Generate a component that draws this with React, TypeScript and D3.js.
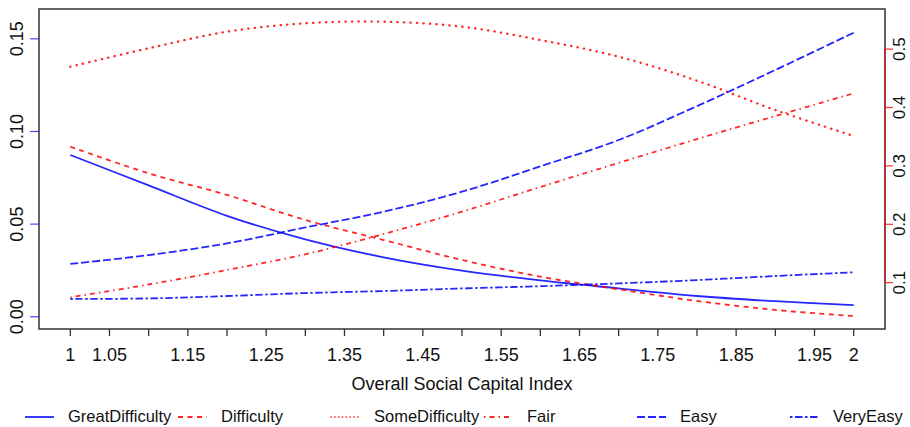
import React from "react";
import * as d3 from "d3";

// x grid of the predicted probabilities
const xValues = [1.0, 1.1, 1.2, 1.3, 1.4, 1.5, 1.6, 1.7, 1.8, 1.9, 2.0];

// left (blue) axis series
const greatDifficulty = [0.0873, 0.0709, 0.0545, 0.0418, 0.0321, 0.0249, 0.0196, 0.0153, 0.0112, 0.0084, 0.0063];
const easy = [0.0285, 0.0333, 0.0396, 0.0482, 0.0567, 0.0675, 0.0812, 0.0954, 0.1137, 0.1332, 0.1533];
const veryEasy = [0.0096, 0.0099, 0.0112, 0.0128, 0.0139, 0.0153, 0.0165, 0.018, 0.0198, 0.022, 0.024];

// right (red) axis series
const difficulty = [0.3329, 0.2873, 0.2502, 0.2074, 0.1731, 0.1389, 0.1103, 0.0887, 0.0687, 0.0533, 0.043];
const someDifficulty = [0.4699, 0.5014, 0.5298, 0.5442, 0.5469, 0.5384, 0.5156, 0.487, 0.4459, 0.3957, 0.3512];
const fair = [0.075, 0.0969, 0.1217, 0.1487, 0.1834, 0.2216, 0.2639, 0.3052, 0.346, 0.3854, 0.4243];

const xTicks = d3.range(0, 21).map((i) => 1 + i * 0.05);
const xTickLabels = ["1", "1.05", "1.15", "1.25", "1.35", "1.45", "1.55", "1.65", "1.75", "1.85", "1.95", "2"];
const leftTicks = [0, 0.05, 0.1, 0.15];
const leftTickLabels = ["0.00", "0.05", "0.10", "0.15"];
const rightTicks = [0.1, 0.2, 0.3, 0.4, 0.5];
const rightTickLabels = ["0.1", "0.2", "0.3", "0.4", "0.5"];

const legendNames = ["GreatDifficulty", "Difficulty", "SomeDifficulty", "Fair", "Easy", "VeryEasy"];

const BLUE = "#0000ff";
const RED = "#ff0000";
const FONT = "'Liberation Sans', Arial, Helvetica, sans-serif";

const W = 910;
const H = 427;
const left = 39;
const right = 885;
const top = 9;
const bottom = 329;

export default function App() {
  React.useEffect(() => {
    document.body.style.margin = "0";
  }, []);

  const x = d3.scaleLinear().domain([0.96, 2.04]).range([left, right]);
  const yL = d3.scaleLinear().domain([-0.0066, 0.1661]).range([bottom, top]);
  const yR = d3.scaleLinear().domain([0.0207, 0.5687]).range([bottom, top]);

  const series = [
    { name: "GreatDifficulty", vals: greatDifficulty, scale: yL, color: BLUE, dash: "none", cap: "butt" },
    { name: "Difficulty", vals: difficulty, scale: yR, color: RED, dash: "5,4.5", cap: "butt" },
    { name: "SomeDifficulty", vals: someDifficulty, scale: yR, color: RED, dash: "0.3,6.2", cap: "round" },
    { name: "Fair", vals: fair, scale: yR, color: RED, dash: "1.5,4,5,4", cap: "butt" },
    { name: "Easy", vals: easy, scale: yL, color: BLUE, dash: "8,3", cap: "butt" },
    { name: "VeryEasy", vals: veryEasy, scale: yL, color: BLUE, dash: "2.5,2.5,7.5,2.5", cap: "butt" },
  ];

  const lineFor = (s: any) =>
    d3
      .line<number>()
      .x((_, i) => x(xValues[i]))
      .y((v) => s.scale(v))
      .curve(d3.curveCatmullRom.alpha(0.5))(s.vals) as string;

  const labelledTicks = xTickLabels.map((l) => +l);

  return (
    <svg width={W} height={H} style={{ position: "absolute", left: 0, top: 0, background: "#fff" }} fontFamily={FONT}>
      <rect x={0} y={0} width={W} height={H} fill="#fff" />
      {/* series */}
      {series.map((s) => (
        <path
          key={s.name}
          d={lineFor(s)}
          fill="none"
          stroke={s.color}
          strokeWidth={s.cap === "round" ? 2.3 : 1.8}
          strokeLinecap={s.cap as any}
          strokeDasharray={s.dash}
          opacity={0.85}
        />
      ))}
      {/* box */}
      <rect x={left} y={top} width={right - left} height={bottom - top} fill="none" stroke="#333" strokeWidth={1.5} />

      {/* bottom axis */}
      {xTicks.map((t, i) => (
        <line key={"xt" + i} x1={x(t)} x2={x(t)} y1={bottom} y2={bottom + 7} stroke="#333" strokeWidth={1.3} />
      ))}
      {labelledTicks.map((t, i) => (
        <text key={"xl" + i} x={x(t)} y={361} fontSize={18} textAnchor="middle" fill="#111">
          {xTickLabels[i]}
        </text>
      ))}
      <text x={(left + right) / 2} y={390} fontSize={18} textAnchor="middle" fill="#111">
        Overall Social Capital Index
      </text>

      {/* left axis */}
      {leftTicks.map((t, i) => (
        <g key={"lt" + i}>
          <line x1={left - 9} x2={left} y1={yL(t)} y2={yL(t)} stroke={BLUE} strokeWidth={1.2} opacity={0.7} />
          <text transform={`translate(23,${yL(t)}) rotate(-90)`} fontSize={18} textAnchor="middle" fill="#111">
            {leftTickLabels[i]}
          </text>
        </g>
      ))}

      {/* right axis */}
      <line x1={right} x2={right} y1={yR(0.5)} y2={yR(0.1)} stroke={RED} strokeWidth={1.2} opacity={0.8} />
      {rightTicks.map((t, i) => (
        <g key={"rt" + i}>
          <line x1={right} x2={right + 8} y1={yR(t)} y2={yR(t)} stroke={RED} strokeWidth={1.2} opacity={0.8} />
          <text transform={`translate(905,${yR(t)}) rotate(-90)`} fontSize={17} textAnchor="middle" fill="#111">
            {rightTickLabels[i]}
          </text>
        </g>
      ))}

      {/* legend */}
      {series.map((s, i) => {
        const lx = 25 + i * 153;
        return (
          <g key={"lg" + i}>
            <line
              x1={lx}
              x2={lx + 29}
              y1={417}
              y2={417}
              stroke={s.color}
              strokeWidth={s.cap === "round" ? 1.6 : 1.8}
              strokeLinecap={s.cap as any}
              strokeDasharray={s.cap === "round" ? "0.3,3.5" : s.dash}
              opacity={0.85}
            />
            <text x={lx + 43} y={422} fontSize={16.5} fill="#111">
              {legendNames[i]}
            </text>
          </g>
        );
      })}
    </svg>
  );
}
